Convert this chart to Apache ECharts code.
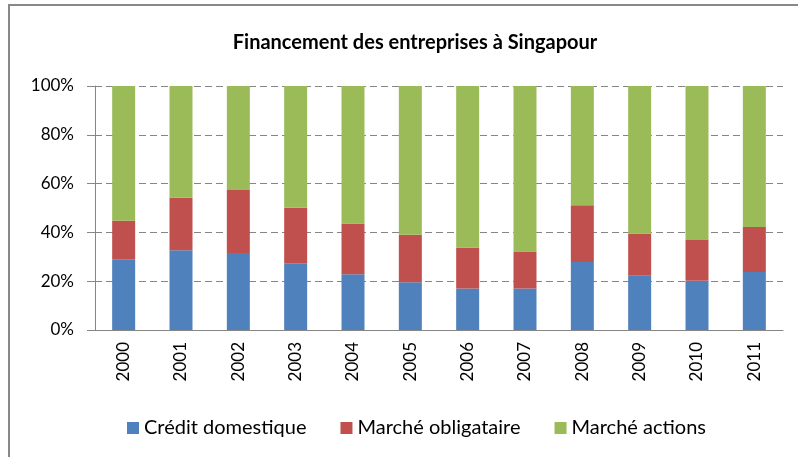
<!DOCTYPE html>
<html>
<head>
<meta charset="utf-8">
<script src="https://cdn.jsdelivr.net/npm/echarts@6/dist/echarts.min.js"></script>
<style>
  html, body { margin: 0; padding: 0; background: #fff; }
  #chart { width: 798px; height: 457px; }
</style>
</head>
<body>
<div id="chart"></div>
<script>
const years = ['2000', '2001', '2002', '2003', '2004', '2005', '2006', '2007', '2008', '2009', '2010', '2011']
// parts in %, each year sums to 100
const creditDomestique = [29.0, 32.7, 31.6, 27.4, 22.8, 19.6, 17.0, 17.0, 27.9, 22.2, 20.2, 23.8]
const marcheObligataire = [15.8, 21.5, 25.8, 22.7, 20.8, 19.4, 16.8, 15.2, 23.2, 17.3, 16.7, 18.4]
const marcheActions = [55.2, 45.8, 42.6, 49.9, 56.4, 61.0, 66.2, 67.8, 48.9, 60.5, 63.1, 57.8]
const yTicks = [0, 20, 40, 60, 80, 100]

const font = 'Lato, "Open Sans", sans-serif'
const chart = echarts.init(document.getElementById('chart'))

function bar(name, data, color) {
  return {
    name, type: 'bar', stack: 'total', data, barWidth: 23,
    itemStyle: { color },
    emphasis: { disabled: true }
  }
}

chart.setOption({
  animation: false,
  textStyle: { fontFamily: font },
  title: {
    text: 'Financement des entreprises à Singapour',
    left: 410, top: 28, textAlign: 'center',
    textStyle: { fontFamily: font, fontSize: 20, fontWeight: 'bold', color: '#000' }
  },
  graphic: [{
    type: 'rect', shape: { x: 9, y: 5, width: 1000, height: 1000 },
    style: { fill: 'none', stroke: '#888', lineWidth: 2 }
  }],
  legend: {
    top: 413, left: 122, itemWidth: 12, itemHeight: 12, itemGap: 34,
    icon: 'rect',
    textStyle: { fontFamily: font, fontSize: 20, color: '#000' }
  },
  grid: { left: 95, right: 15, top: 86, bottom: 127 },
  xAxis: {
    type: 'category', data: years,
    axisLine: { lineStyle: { color: '#868686' } },
    axisTick: { length: 6, lineStyle: { color: '#868686' } },
    axisLabel: { rotate: 90, margin: 12, fontSize: 17, color: '#000', fontFamily: font }
  },
  yAxis: {
    type: 'value', min: 0, max: 100, interval: 20,
    axisLine: { show: true, lineStyle: { color: '#868686' } },
    axisTick: { show: true, length: 8, lineStyle: { color: '#868686' } },
    axisLabel: {
      margin: 21, fontSize: 17, color: '#000', fontFamily: font,
      formatter: v => yTicks.includes(v) ? v + '%' : ''
    },
    splitLine: { lineStyle: { color: '#858585', type: [7, 4] } }
  },
  series: [
    bar('Crédit domestique', creditDomestique, '#4F81BD'),
    bar('Marché obligataire', marcheObligataire, '#C0504D'),
    bar('Marché actions', marcheActions, '#9BBB59')
  ]
})
</script>
</body>
</html>
